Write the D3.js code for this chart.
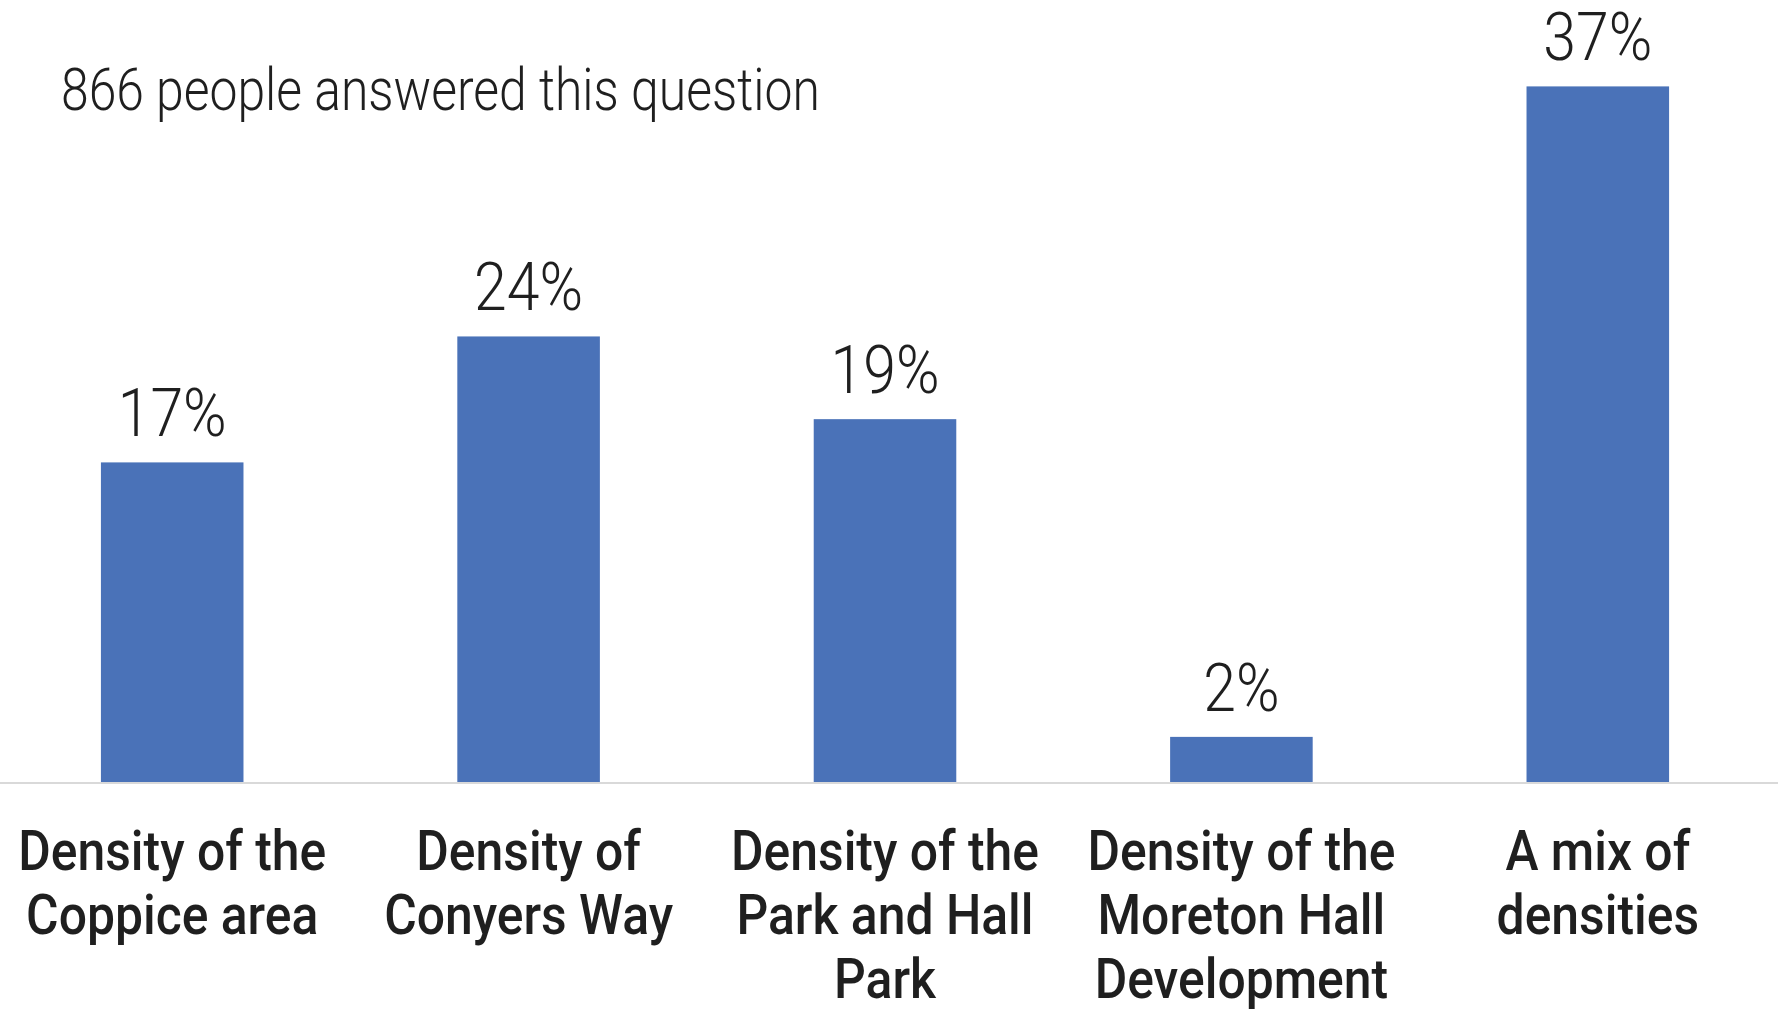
<!DOCTYPE html>
<html>
<head>
<meta charset="utf-8">
<script src="https://cdn.jsdelivr.net/npm/d3@7"></script>
<style>
  html, body { margin: 0; padding: 0; background: #fff; }
  svg { display: block; }
  text { font-family: Roboto, "Noto Sans", sans-serif; fill: #1f1f1f; }
</style>
</head>
<body>
<svg id="chart" width="1780" height="1010"></svg>
<script>
const categories = [
  ["Density of the", "Coppice area"],
  ["Density of", "Conyers Way"],
  ["Density of the", "Park and Hall", "Park"],
  ["Density of the", "Moreton Hall", "Development"],
  ["A mix of", "densities"]
];
const values = [17.0, 23.7, 19.3, 2.4, 37.0];
const valueLabels = ["17%", "24%", "19%", "2%", "37%"];
const subtitle = "866 people answered this question";

const svg = d3.select("#chart");
const baseY = 782;
const keys = categories.map((c, i) => i);

const x = d3.scaleBand().domain(keys).range([-6, 1776]).paddingInner(0.6).paddingOuter(0.3);
const y = d3.scaleLinear().domain([0, 40]).range([baseY, baseY - 752]);

// bars
svg.selectAll("rect.bar").data(values).join("rect")
  .attr("class", "bar")
  .attr("x", (d, i) => x(i))
  .attr("width", x.bandwidth())
  .attr("y", d => y(d))
  .attr("height", d => y(0) - y(d))
  .attr("fill", "#4A72B8");

// axis line
svg.append("line")
  .attr("x1", 0).attr("x2", 1778)
  .attr("y1", baseY + 1).attr("y2", baseY + 1)
  .attr("stroke", "#d9d9d9").attr("stroke-width", 2);

// value labels
svg.selectAll("text.val").data(values).join("text")
  .attr("class", "val")
  .attr("text-anchor", "middle")
  .attr("transform", (d, i) => `translate(${x(i) + x.bandwidth() / 2},${y(d) - 26}) scale(0.88,1)`)
  .style("font-size", "67px")
  .style("font-weight", 300)
  .text((d, i) => valueLabels[i]);

// category labels
const cat = svg.selectAll("g.cat").data(categories).join("g")
  .attr("class", "cat")
  .attr("transform", (d, i) => `translate(${x(i) + x.bandwidth() / 2},0)`);
cat.selectAll("text").data(d => d).join("text")
  .attr("text-anchor", "middle")
  .attr("transform", (d, j) => `translate(0,${870 + j * 64}) scale(0.89,1)`)
  .style("font-size", "56px")
  .style("font-weight", 500)
  .text(d => d);

// subtitle
svg.append("text")
  .attr("transform", "translate(61,110) scale(0.845,1)")
  .style("font-size", "59px")
  .style("font-weight", 300)
  .text(subtitle);
</script>
</body>
</html>
